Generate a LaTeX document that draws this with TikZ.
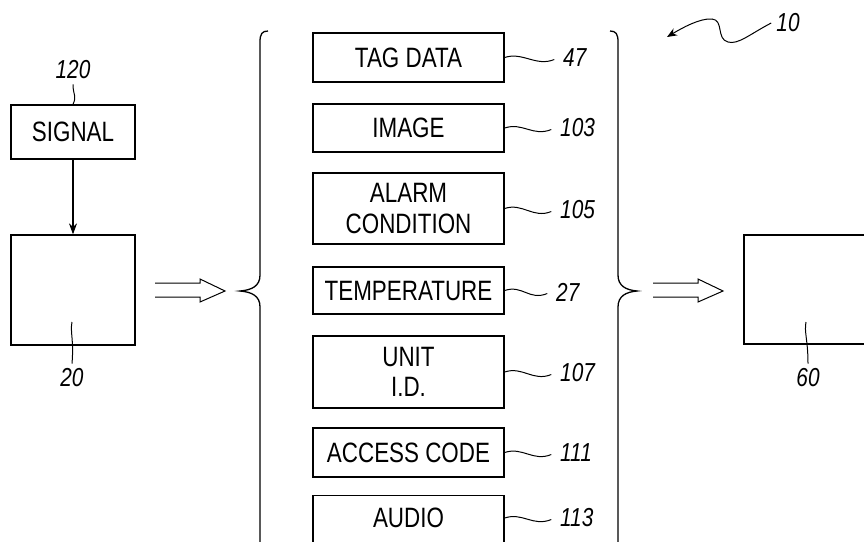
\documentclass[tikz,border=0pt]{standalone}
\usepackage{fontspec}
\setmainfont{Liberation Sans}[FakeStretch=0.8]
\usetikzlibrary{calc,arrows.meta}
\begin{document}
\begin{tikzpicture}[x=1pt,y=-1pt,
  box/.style={draw, line width=1.3pt, inner sep=0pt, align=center, font=\fontsize{28}{30}\selectfont},
  num/.style={font=\fontsize{26}{28}\selectfont\itshape, inner sep=5pt},
  sq/.style={line width=1pt},
  brace/.style={line width=1.3pt},
  hollow/.style={line width=1pt, line join=miter},
]
\useasboundingbox (0,0) rectangle (864,541);
\clip (0,0) rectangle (864,541);

% left column
\node[box, minimum width=124pt, minimum height=54pt] (sig) at (73,132) {SIGNAL};
\node[box, minimum width=124pt, minimum height=110pt] (b20) at (73,290) {};
\node[num] (l120) at (73,70) {120};
\node[num] (l20) at (72,378) {20};
\coordinate (in20) at (72,322);
\draw[sq] (l120.south) .. controls (73,95) and (77,96) .. (sig.north);
\draw[sq] (in20) .. controls (70,332) and (74,340) .. (l20.north);
\draw[line width=1.1pt, -{Stealth[length=11pt,width=8pt]}] (sig.south) -- (b20.north);

% middle boxes
\node[box, minimum width=191pt, minimum height=49pt] (tag) at (408.5,57.5) {TAG DATA};
\node[box, minimum width=191pt, minimum height=48pt] (img) at (408.5,128) {IMAGE};
\node[box, minimum width=191pt, minimum height=71pt] (alarm) at (408.5,208.5) {ALARM\\CONDITION};
\node[box, minimum width=191pt, minimum height=47pt] (temp) at (408.5,290.5) {TEMPERATURE};
\node[box, minimum width=191pt, minimum height=72pt] (unit) at (408.5,372) {UNIT\\I.D.};
\node[box, minimum width=191pt, minimum height=49pt] (acc) at (408.5,452.5) {ACCESS CODE};
\node[box, minimum width=191pt, anchor=north, text height=32pt, text depth=40pt] (audio) at (408.5,495) {AUDIO};

% number labels
\node[num, anchor=west] (l47) at (558,58) {47};
\node[num, anchor=west] (l103) at (555,128) {103};
\node[num, anchor=west] (l105) at (555,210) {105};
\node[num, anchor=west] (l27) at (551,292) {27};
\node[num, anchor=west] (l107) at (555,373) {107};
\node[num, anchor=west] (l111) at (555,453) {111};
\node[num, anchor=west] (l113) at (555,518) {113};

\foreach \b/\l in {tag/l47, img/l103, alarm/l105, temp/l27, unit/l107, acc/l111}{
  \draw[sq, shorten >=4pt] (\b.east) .. controls ($(\b.east)+(18,-6)$) and ($(\l.west)+(-22,9)$) .. (\l.west);
}
\draw[sq, shorten >=4pt] (audio.east |- l113.west) .. controls ($(audio.east |- l113.west)+(18,-6)$) and ($(l113.west)+(-22,9)$) .. (l113.west);

% braces
\draw[brace] (268,31) .. controls (262,31) and (260,34) .. (260,42) -- (260,275)
  .. controls (260,286) and (252,290) .. (240,291)
  .. controls (252,292) and (260,296) .. (260,307) -- (260,560);
\draw[brace] (610,31) .. controls (616,31) and (618,34) .. (618,42) -- (618,275)
  .. controls (618,286) and (626,290) .. (637,291)
  .. controls (626,292) and (618,296) .. (618,307) -- (618,560);

% hollow arrows
\coordinate (ha) at (155,290);
\coordinate (hb) at (653,290);
\foreach \c in {ha,hb}{
  \draw[hollow] ($(\c)+(0,-7)$) -- ++(45,0) -- ++(0,-4) -- ($(\c)+(70,1)$) -- ($(\c)+(45,12)$) -- ++(0,-5) -- ++(-45,0);
}

% right box
\node[box, minimum width=140pt, minimum height=109pt] (b60) at (814,289.5) {};
\node[num] (l60) at (808,378) {60};
\coordinate (in60) at (806,322);
\draw[sq] (in60) .. controls (804,332) and (808,340) .. (l60.north);

% label 10
\node[num] (l10) at (788,23) {10};
\coordinate (t10) at (667,37);
\draw[sq, -{Stealth[length=10pt,width=8pt]}] (l10.west) .. controls (750,34) and (738,45) .. (728,42)
  .. controls (716,39) and (724,20) .. (712,19) .. controls (700,18) and (682,28) .. (t10);
\end{tikzpicture}
\end{document}
